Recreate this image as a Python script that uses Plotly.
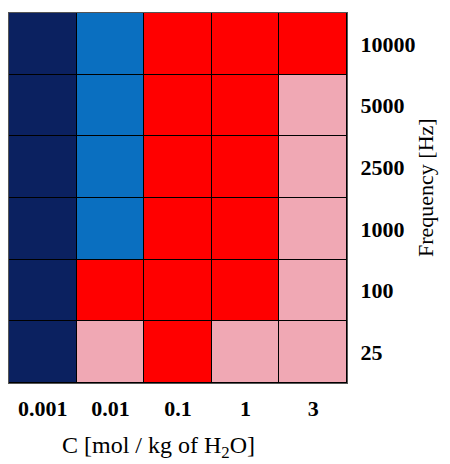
import plotly.graph_objects as go

concentrations = ["0.001", "0.01", "0.1", "1", "3"]
frequencies = ["25", "100", "1000", "2500", "5000", "10000"]
# category codes: 0 navy, 1 blue, 2 red, 3 pink
z_25 = [0, 3, 2, 3, 3]
z_100 = [0, 2, 2, 2, 3]
z_1000 = [0, 1, 2, 2, 3]
z_2500 = [0, 1, 2, 2, 3]
z_5000 = [0, 1, 2, 2, 3]
z_10000 = [0, 1, 2, 2, 2]
z = [z_25, z_100, z_1000, z_2500, z_5000, z_10000]

colors = ["#0b2160", "#0a6fc0", "#ff0000", "#f0a8b4"]
cs = []
for i, c in enumerate(colors):
    cs.append([i / 4, c])
    cs.append([(i + 1) / 4, c])

fig = go.Figure(go.Heatmap(
    x=concentrations, y=frequencies, z=z,
    colorscale=cs, zmin=-0.5, zmax=3.5, showscale=False,
    xgap=1, ygap=1, hoverinfo="skip",
))

serif = "Liberation Serif"
L, R, T, B = 9, 103, 13, 81
W, H = 450, 464
pw = W - L - R
ph = H - T - B


def px_to_paper(px, py):
    return (px - L) / pw, 1 - (py - T) / ph


ax, ay = px_to_paper(158, 447)
bx, by = px_to_paper(425, 188)

fig.update_layout(
    width=W, height=H,
    margin=dict(l=L, r=R, t=T, b=B),
    plot_bgcolor="#000000", paper_bgcolor="white",
    font=dict(family=serif, color="black"),
    xaxis=dict(type="category", showgrid=False, zeroline=False,
               ticks="outside", ticklen=6, tickcolor="white",
               tickfont=dict(family=serif, size=22, weight="bold"),
               showline=True, linecolor="#555", mirror=True),
    yaxis=dict(type="category", side="right", showgrid=False, zeroline=False,
               ticks="outside", ticklen=8, tickcolor="white",
               tickfont=dict(family=serif, size=22, weight="bold"),
               showline=True, linecolor="#555", mirror=True),
    annotations=[
        dict(text="C [mol / kg of H<sub>2</sub>O]", x=ax, y=ay, xref="paper", yref="paper",
             xanchor="center", yanchor="middle",
             showarrow=False, font=dict(family=serif, size=24)),
        dict(text="Frequency [Hz]", x=bx, y=by, xref="paper", yref="paper",
             xanchor="center", yanchor="middle", textangle=-90, showarrow=False,
             font=dict(family=serif, size=22)),
    ],
)
fig.write_html("out.html")
